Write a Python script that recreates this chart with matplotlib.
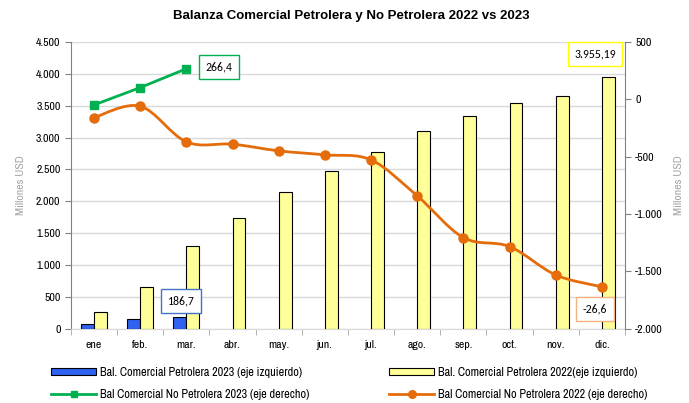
import matplotlib.pyplot as plt
import numpy as np
from matplotlib.path import Path
from matplotlib.patches import PathPatch, Patch
from matplotlib.lines import Line2D
from matplotlib.ticker import FuncFormatter

plt.rcParams['font.family'] = ['Archivo Narrow', 'Liberation Sans', 'DejaVu Sans']

meses = ["ene", "feb.", "mar.", "abr.", "may.", "jun.", "jul.", "ago.", "sep.", "oct.", "nov.", "dic."]
petrolera_2023 = [74, 157, 186.7]
petrolera_2022 = [267, 658, 1301, 1740, 2148, 2477, 2775, 3104, 3340, 3543, 3653, 3955.19]
no_petrolera_2023 = [-49, 102, 266.4]
no_petrolera_2022 = [-159, -60, -371, -391, -449, -484, -528, -841, -1205, -1283, -1530, -1634]

c_blue = "#2F62F0"
c_yellow = "#FFFF99"
c_green = "#00B050"
c_orange = "#E46C0A"
label_font = ['Carlito', 'Lato', 'DejaVu Sans']


def miles(v, pos=None):
    s = f"{abs(v):,.0f}".replace(",", ".")
    return ("-" if v < 0 else "") + s


def smooth_path(xs, ys):
    # Catmull-Rom smoothing drawn as cubic Bezier segments
    xs = np.asarray(xs, float)
    ys = np.asarray(ys, float)
    n = len(xs)
    verts = [(xs[0], ys[0])]
    codes = [Path.MOVETO]
    for i in range(n - 1):
        x0, y0 = (xs[i - 1], ys[i - 1]) if i > 0 else (xs[i], ys[i])
        x1, y1 = xs[i], ys[i]
        x2, y2 = xs[i + 1], ys[i + 1]
        x3, y3 = (xs[i + 2], ys[i + 2]) if i + 2 < n else (x2, y2)
        t = 6.0
        verts += [(x1 + (x2 - x0) / t, y1 + (y2 - y0) / t),
                  (x2 - (x3 - x1) / t, y2 - (y3 - y1) / t),
                  (x2, y2)]
        codes += [Path.CURVE4] * 3
    return Path(verts, codes)


fig = plt.figure(figsize=(6.89, 4.03), dpi=100)
ax = fig.add_axes([0.103, 0.184, 0.804, 0.712])
ax2 = ax.twinx()

x = np.arange(len(meses))
w = 0.28
ax.bar(x[:len(petrolera_2023)] - w / 2, petrolera_2023, w, color=c_blue, edgecolor="black", linewidth=0.8, zorder=3)
ax.bar(x + w / 2, petrolera_2022, w, color=c_yellow, edgecolor="black", linewidth=0.8, zorder=3)

ax.set_xlim(-0.5, 11.5)
ax.set_ylim(0, 4500)
ax.set_yticks(np.arange(0, 4501, 500))
ax.yaxis.set_major_formatter(FuncFormatter(miles))
ax.grid(axis="y", color="#D9D9D9", linewidth=1, zorder=0)
ax.set_axisbelow(True)
ax.set_xticks(x)
ax.set_xticklabels(meses)
ax.set_xticks(np.arange(-0.5, 12, 1), minor=True)
ax.tick_params(axis="x", which="major", length=0, labelsize=8.5, pad=8)
ax.tick_params(axis="x", which="minor", length=4, color="#A6A6A6")
ax.tick_params(axis="y", labelsize=8.5, length=4, color="#808080")
ax.set_ylabel("Millones USD", color="#A6A6A6", fontsize=8.5, labelpad=7)
for s in ["top", "right"]:
    ax.spines[s].set_visible(False)
ax.spines["left"].set_color("#808080")
ax.spines["bottom"].set_color("#D9D9D9")

ax2.set_ylim(-2000, 500)
ax2.set_yticks(np.arange(-2000, 501, 500))
ax2.yaxis.set_major_formatter(FuncFormatter(miles))
ax2.tick_params(axis="y", labelsize=8.5, length=4, color="#808080")
ax2.set_ylabel("Millones USD", color="#A6A6A6", fontsize=8.5, rotation=90, labelpad=8)
for s in ["top", "left", "bottom"]:
    ax2.spines[s].set_visible(False)
ax2.spines["right"].set_color("#808080")

ax2.add_patch(PathPatch(smooth_path(x, no_petrolera_2022), facecolor="none", edgecolor=c_orange, linewidth=2, zorder=4))
ax2.plot(x, no_petrolera_2022, linestyle="none", marker="o", markersize=6.5, color=c_orange, zorder=5)
ax2.plot(x[:3], no_petrolera_2023, color=c_green, linewidth=2, marker="s", markersize=5.5, zorder=5)

box = dict(boxstyle="square,pad=0.55", facecolor="white", linewidth=1)
ax2.annotate("266,4", xy=(2, no_petrolera_2023[2]), xytext=(2.7, 285), fontsize=8.5, ha="center", va="center",
             bbox=dict(box, edgecolor=c_green), zorder=6, family=label_font)
ax.annotate("186,7", xy=(2, petrolera_2023[2]), xytext=(1.88, 440), fontsize=8.5, ha="center", va="center",
            bbox=dict(box, edgecolor="#4472C4"), zorder=6, family=label_font)
ax.annotate("3.955,19", xy=(11, petrolera_2022[11]), xytext=(10.85, 4310), fontsize=8.5, ha="center", va="center",
            bbox=dict(box, edgecolor="#FFFF00"), zorder=6, family=label_font)
ax2.annotate("-26,6", xy=(11, no_petrolera_2022[11]), xytext=(10.85, -1830), fontsize=8.5, ha="center", va="center",
             bbox=dict(box, edgecolor="#F4B183"), zorder=6, family=label_font)

fig.suptitle("Balanza Comercial Petrolera y No Petrolera 2022 vs 2023", fontsize=9.5, fontweight="bold",
             x=0.51, y=0.975, family=['Liberation Sans', 'DejaVu Sans'])

leg_kw = dict(loc="upper left", frameon=False, fontsize=8.8, handlelength=3.7, handleheight=0.45,
              handletextpad=0.3, labelspacing=0.9, borderaxespad=0, borderpad=0)
leg1 = fig.legend([Patch(facecolor=c_blue, edgecolor="black", linewidth=0.8),
                   Line2D([], [], color=c_green, linewidth=2, marker="s", markersize=5)],
                  ["Bal. Comercial Petrolera 2023 (eje izquierdo)",
                   "Bal Comercial No Petrolera 2023 (eje derecho)"],
                  bbox_to_anchor=(0.074, 0.09), **leg_kw)
leg2 = fig.legend([Patch(facecolor=c_yellow, edgecolor="black", linewidth=0.8),
                   Line2D([], [], color=c_orange, linewidth=2, marker="o", markersize=5.5)],
                  ["Bal. Comercial Petrolera 2022(eje izquierdo)",
                   "Bal Comercial No Petrolera 2022 (eje derecho)"],
                  bbox_to_anchor=(0.5646, 0.09), **leg_kw)

fig.savefig("out.png", dpi=100)
